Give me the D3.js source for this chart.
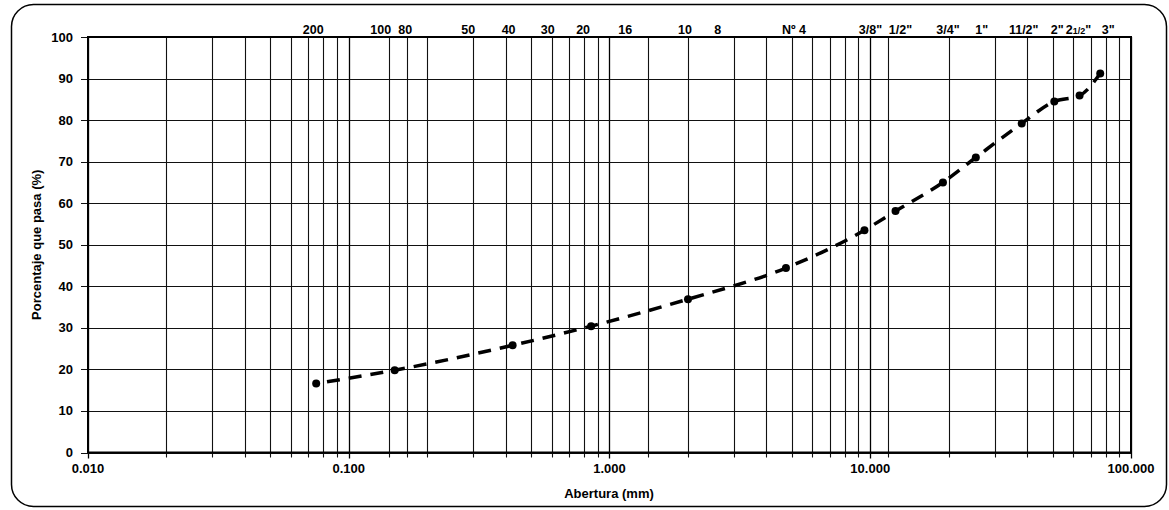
<!DOCTYPE html>
<html>
<head>
<meta charset="utf-8">
<script src="https://cdn.jsdelivr.net/npm/d3@7"></script>
<style>
    body { margin: 0; background: #fff; }
    text { font-family: "Liberation Sans", Arial, sans-serif; font-weight: bold; fill: #000; }
</style>
</head>
<body>
<div id="curva"></div>
<script>
// curva granulometrica: % que pasa vs abertura (mm), escala log

// tamices (eje superior)
var sieveLabels = ["200", "100", "80", "50", "40", "30", "20", "16", "10", "8", "Nº 4",
    "3/8\"", "1/2\"", "3/4\"", "1\"", "11/2\"", "2\"", "21/2\"", "3\""];
var sieveOpenings = [0.075, 0.15, 0.18, 0.3, 0.425, 0.6, 0.85, 1.18, 2.0, 2.36, 4.75,
    9.5, 12.5, 19.0, 25.4, 38.1, 50.8, 63.5, 76.2];

// puntos del ensayo
var aberturaMm = [0.075, 0.15, 0.425, 0.85, 2.0, 4.75, 9.5, 12.5, 19.0, 25.4, 38.1, 50.8, 63.5, 76.2];
var porcentajePasa = [16.6, 19.8, 25.8, 30.4, 36.9, 44.4, 53.5, 58.1, 65.0, 71.0, 79.2, 84.5, 85.9, 91.2];

// ejes
var xTicks = [0.01, 0.1, 1, 10, 100];
var xTickLabels = ["0.010", "0.100", "1.000", "10.000", "100.000"];
var yTicks = [0, 10, 20, 30, 40, 50, 60, 70, 80, 90, 100];
var extraGrid = [0.143, 0.167, 1.41, 11.7];

// small nudges so the sieve labels sit where the original put them
var labelNudge = [-3, -14, -10, -5, -4, -4, -8, -3, -3, 11, 8, 6, 5, 5, 6, 2, 3, -1, 8];

var width = 1169, height = 510;
var plotL = 88, plotR = 1131, plotT = 37, plotB = 452.5;

var svg = d3.select("#curva")
    .append("svg")
    .attr("width", width)
    .attr("height", height);

// marco redondeado
svg.append("rect")
    .attr("x", 11.5).attr("y", 4.5)
    .attr("width", 1155).attr("height", 502)
    .attr("rx", 22).attr("ry", 22)
    .attr("fill", "none")
    .attr("stroke", "#000")
    .attr("stroke-width", 1.5);

var x = d3.scaleLog().domain([0.01, 100]).range([plotL, plotR]);
var y = d3.scaleLinear().domain([0, 100]).range([plotB, plotT]);

// vertical grid: 1..9 per decade plus a few extra lines
var gridVals = [];
xTicks.slice(0, 4).forEach(function(d) {
    for (var k = 2; k <= 9; k++) gridVals.push(d * k);
});
gridVals = gridVals.concat(extraGrid);

var grid = svg.append("g").attr("class", "grid");

grid.selectAll(".vline")
    .data(gridVals)
    .enter()
    .append("line")
    .attr("class", "vline")
    .attr("x1", function(d) { return Math.round(x(d)) + 0.5; })
    .attr("x2", function(d) { return Math.round(x(d)) + 0.5; })
    .attr("y1", plotT)
    .attr("y2", plotB + 5)
    .attr("stroke", "#111")
    .attr("stroke-width", 1.1);

grid.selectAll(".decade")
    .data(xTicks)
    .enter()
    .append("line")
    .attr("class", "decade")
    .attr("x1", function(d) { return Math.round(x(d)) + 0.5; })
    .attr("x2", function(d) { return Math.round(x(d)) + 0.5; })
    .attr("y1", plotT)
    .attr("y2", plotB + 6)
    .attr("stroke", "#000")
    .attr("stroke-width", 1.3);

grid.selectAll(".hline")
    .data(yTicks)
    .enter()
    .append("line")
    .attr("class", "hline")
    .attr("x1", plotL - 7)
    .attr("x2", plotR)
    .attr("y1", function(d) { return Math.round(y(d)) + 0.5; })
    .attr("y2", function(d) { return Math.round(y(d)) + 0.5; })
    .attr("stroke", "#111")
    .attr("stroke-width", 1.1);

// plot border
svg.append("rect")
    .attr("x", plotL).attr("y", plotT)
    .attr("width", plotR - plotL).attr("height", plotB - plotT)
    .attr("fill", "none")
    .attr("stroke", "#000")
    .attr("stroke-width", 2);

// eje Y
svg.selectAll(".ylab")
    .data(yTicks)
    .enter()
    .append("text")
    .attr("class", "ylab")
    .attr("x", 73)
    .attr("y", function(d) { return y(d) + 4.5; })
    .attr("text-anchor", "end")
    .style("font-size", "13px")
    .text(function(d) { return d; });

svg.append("text")
    .attr("transform", "translate(41," + ((plotT + plotB) / 2) + ") rotate(-90)")
    .attr("text-anchor", "middle")
    .style("font-size", "13px")
    .text("Porcentaje que pasa (%)");

// eje X
svg.selectAll(".xlab")
    .data(xTicks)
    .enter()
    .append("text")
    .attr("class", "xlab")
    .attr("x", function(d) { return x(d); })
    .attr("y", 473)
    .attr("text-anchor", "middle")
    .style("font-size", "13px")
    .text(function(d, i) { return xTickLabels[i]; });

svg.append("text")
    .attr("x", 609)
    .attr("y", 498)
    .attr("text-anchor", "middle")
    .style("font-size", "13px")
    .text("Abertura (mm)");

// tamices arriba
var sieveText = svg.selectAll(".sieve")
    .data(sieveOpenings)
    .enter()
    .append("text")
    .attr("class", "sieve")
    .attr("x", function(d, i) { return x(d) + labelNudge[i]; })
    .attr("y", 34)
    .attr("text-anchor", "middle")
    .style("font-size", "12.5px");

sieveText.each(function(d, i) {
    var t = d3.select(this);
    var lab = sieveLabels[i];
    if (lab === "21/2\"") {
        t.append("tspan").text("2");
        t.append("tspan").style("font-size", "9px").text("1/2");
        t.append("tspan").text("\"");
    } else {
        t.text(lab);
    }
});

// curva
var pts = aberturaMm.map(function(d, i) { return [d, porcentajePasa[i]]; });

var line = d3.line()
    .x(function(d) { return x(d[0]); })
    .y(function(d) { return y(d[1]); })
    .curve(d3.curveMonotoneX);

svg.append("path")
    .datum(pts)
    .attr("d", line)
    .attr("fill", "none")
    .attr("stroke", "#000")
    .attr("stroke-width", 3.5)
    .attr("stroke-dasharray", "13,9")
    .attr("stroke-dashoffset", -11);

svg.selectAll(".punto")
    .data(pts)
    .enter()
    .append("circle")
    .attr("class", "punto")
    .attr("cx", function(d) { return x(d[0]); })
    .attr("cy", function(d) { return y(d[1]); })
    .attr("r", 4)
    .attr("fill", "#000");
</script>
</body>
</html>
